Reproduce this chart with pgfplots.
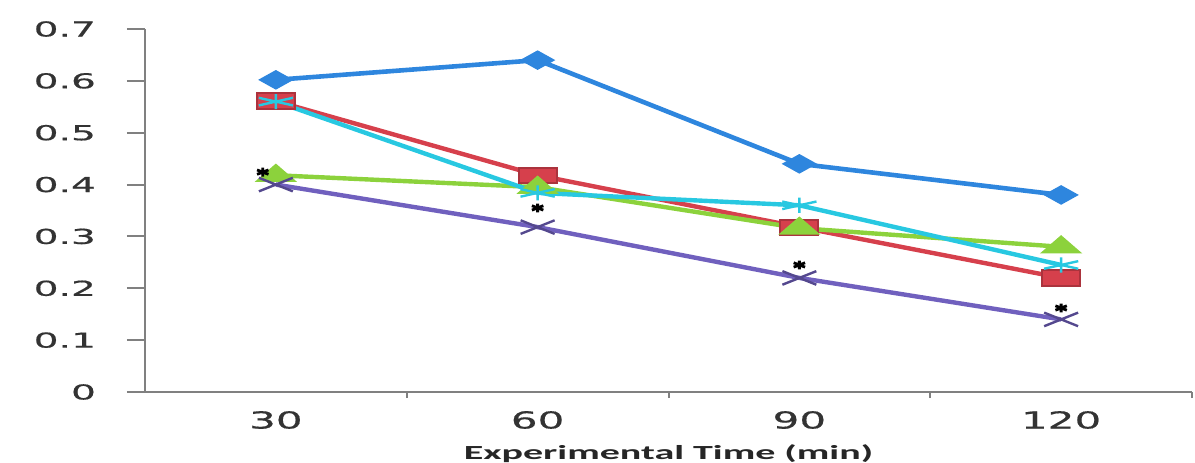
\documentclass[border=0pt]{standalone}
\usepackage{pgfplots}
\pgfplotsset{compat=1.18}
\usepackage{fontspec}
\newfontfamily\ytickfont[FakeStretch=1.9,FakeBold=0.6]{DejaVu Sans}
\newfontfamily\xtickfont[FakeStretch=1.8,FakeBold=0.6]{DejaVu Sans}
\newfontfamily\labelfont[FakeStretch=2.0]{Carlito}
\definecolor{sblue}{RGB}{46,134,222}
\definecolor{sred}{RGB}{214,64,76}
\definecolor{sgreen}{RGB}{140,210,60}
\definecolor{scyan}{RGB}{40,200,225}
\definecolor{spurple}{RGB}{112,96,190}
\definecolor{axgray}{RGB}{128,128,128}
\begin{document}
\begin{tikzpicture}
\useasboundingbox (-72.5pt,-35pt) rectangle (525pt,196pt);
\begin{axis}[
  at={(0,0)}, anchor=south west,
  scale only axis, width=523.5pt, height=181.5pt,
  xmin=0, xmax=4, ymin=0, ymax=0.7,
  axis x line*=bottom, axis y line*=left,
  axis line style={axgray, line width=1.1pt},
  xtick={0.5,1.5,2.5,3.5},
  xticklabels={30,60,90,120},
  xtick style={draw=none},
  xticklabel style={font=\xtickfont\fontsize{11.7}{13}\selectfont, text=black!80, anchor=center, yshift=-5pt},
  extra x ticks={1,2,3,4},
  extra x tick labels={},
  extra x tick style={major tick length=3pt, xtick style={draw=axgray, line width=1pt}},
  ytick={0,0.1,0.2,0.3,0.4,0.5,0.6,0.7},
  yticklabels={0,0.1,0.2,0.3,0.4,0.5,0.6,0.7},
  tick align=outside,
  major tick length=9pt,
  ytick style={axgray, line width=1pt},
  yticklabel style={font=\ytickfont\fontsize{10.3}{12}\selectfont, text=black!80, anchor=east, xshift=-12pt},
  xlabel={Experimental Time (min)},
  xlabel style={font=\labelfont\bfseries\fontsize{10}{12}\selectfont, text=black!85, at={(axis description cs:0.5,0)}, anchor=center, yshift=-31pt},
  clip=false,
]
\addplot[sblue, line width=2.3pt, mark=diamond*, mark size=3.6pt, mark options={xscale=2.4, fill=sblue, draw=sblue}]
  coordinates {(0.5,0.602)(1.5,0.64)(2.5,0.44)(3.5,0.38)};
\addplot[sred, line width=2.2pt, mark=square*, mark size=3.8pt, mark options={xscale=2.5, fill=sred, draw=sred!80!black, line width=1pt}]
  coordinates {(0.5,0.561)(1.5,0.418)(2.5,0.318)(3.5,0.22)};
\addplot[sgreen, line width=2.2pt, mark=triangle*, mark size=4.4pt, mark options={xscale=2.0, fill=sgreen, draw=sgreen}]
  coordinates {(0.5,0.418)(1.5,0.395)(2.5,0.316)(3.5,0.28)};
\addplot[spurple, line width=2.2pt, mark=x, mark size=4.8pt, mark options={xscale=2.5, draw=spurple!75!black, line width=1.2pt}]
  coordinates {(0.5,0.40)(1.5,0.318)(2.5,0.22)(3.5,0.14)};
\addplot[scyan, line width=2.2pt, mark=asterisk, mark size=3.8pt, mark options={xscale=2.6, draw=scyan, line width=1.2pt}]
  coordinates {(0.5,0.56)(1.5,0.384)(2.5,0.36)(3.5,0.245)};
\addplot[only marks, black, mark=asterisk, mark size=2.2pt, mark options={xscale=1.5, line width=1.4pt}]
  coordinates {(0.45,0.424)(1.5,0.355)(2.5,0.245)(3.5,0.162)};
\end{axis}
\end{tikzpicture}
\end{document}
